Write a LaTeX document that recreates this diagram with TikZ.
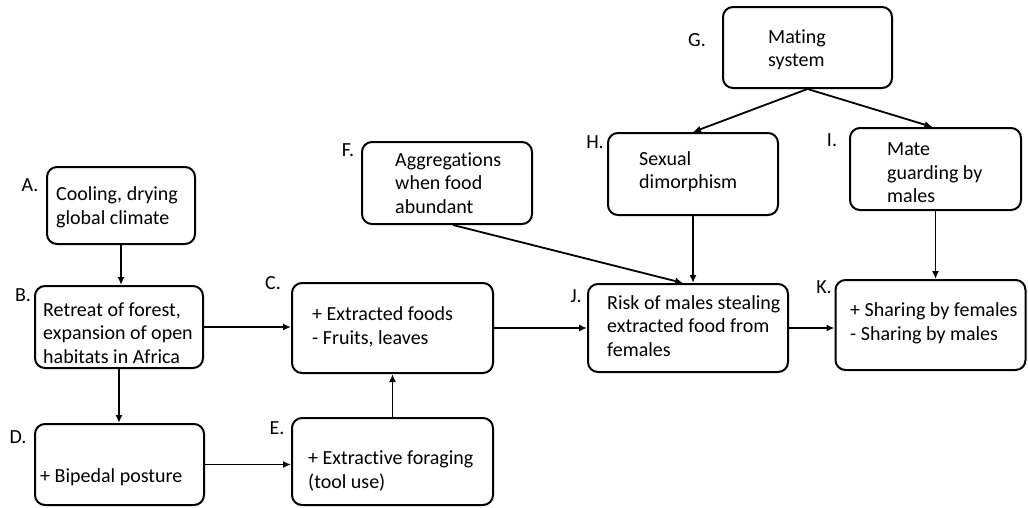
\documentclass[tikz,border=0pt]{standalone}
\usepackage{fontspec}
\setmainfont{Carlito}[Ligatures=NoCommon]
\usetikzlibrary{arrows.meta}

\tikzset{
  box/.style={draw, rectangle, rounded corners=10pt, line width=2pt},
  txt/.style={inner sep=0pt, align=left, anchor=west, font=\fontsize{20}{23.5}\selectfont},
  lbl/.style={inner sep=0pt, font=\fontsize{20}{23.5}\selectfont},
  link/.style={->, line width=1.8pt, >={Latex[length=8pt,width=7pt]}}
}

\begin{document}
\begin{tikzpicture}[x=1pt, y=-1pt]
  \useasboundingbox (0,0) rectangle (1028,507);
    % Boxes
  \node[box, minimum width=148pt, minimum height=77pt] (A) at (121,205.5) {};
  \node[box, minimum width=168pt, minimum height=82pt] (B) at (119,327) {};
  \node[box, minimum width=201pt, minimum height=90pt] (C) at (392.5,328) {};
  \node[box, minimum width=169pt, minimum height=81pt] (D) at (119.5,464.5) {};
  \node[box, minimum width=201pt, minimum height=87pt] (E) at (392.5,461.5) {};
  \node[box, minimum width=170pt, minimum height=82pt] (F) at (447,183) {};
  \node[box, minimum width=169pt, minimum height=81pt] (G) at (807.5,47.5) {};
  \node[box, minimum width=170pt, minimum height=82pt] (H) at (693,174) {};
  \node[box, minimum width=171pt, minimum height=82pt] (I) at (935.5,169) {};
  \node[box, minimum width=200pt, minimum height=88pt] (J) at (688,328) {};
  \node[box, minimum width=190pt, minimum height=90pt] (K) at (930.5,325) {};
    % Texts
  \node[txt] (At) at (56,207.5) {Cooling, drying\\global climate};
  \node[txt] (Bt) at (43,333) {Retreat of forest,\\expansion of open\\habitats in Africa};
  \node[txt] (Ct) at (312,327) {+ Extracted foods\\- Fruits, leaves};
  \node[txt] (Dt) at (40,477) {+ Bipedal posture};
  \node[txt] (Et) at (308,471) {+ Extractive foraging\\(tool use)};
  \node[txt] (Ft) at (395,183) {Aggregations\\when food\\abundant};
  \node[txt] (Gt) at (768,49.5) {Mating\\system};
  \node[txt] (Ht) at (639,171.5) {Sexual\\dimorphism};
  \node[txt] (It) at (887,173) {Mate\\guarding by\\males};
  \node[txt] (Jt) at (607,326) {Risk of males stealing\\extracted food from\\females};
  \node[txt] (Kt) at (850,323.5) {+ Sharing by females\\- Sharing by males};
    % Letters
  \node[lbl] (Al) at (30,185) {A.};
  \node[lbl] (Bl) at (23,295) {B.};
  \node[lbl] (Cl) at (273,283) {C.};
  \node[lbl] (Dl) at (18,437) {D.};
  \node[lbl] (El) at (277,428) {E.};
  \node[lbl] (Fl) at (348,150) {F.};
  \node[lbl] (Gl) at (697,40) {G.};
  \node[lbl] (Hl) at (595,142) {H.};
  \node[lbl] (Il) at (832,140) {I.};
  \node[lbl] (Jl) at (576,296) {J.};
  \node[lbl] (Kl) at (824,287) {K.};
    % Arrows
  \draw[link] (A.south) -- (A.south |- B.north);
  \draw[link] (B.east) -- (B.east -| C.west);
  \draw[link] (B.south) -- (B.south |- D.north);
  \draw[link] (D.east) -- (D.east -| E.west);
  \draw[link] (E.north) -- (E.north |- C.south);
  \draw[link] (C.east) -- (C.east -| J.west);
  \draw[link] ([xshift=6pt]F.south) -- ([xshift=-5pt]J.north);
  \draw[link] (H.south) -- (H.south |- J.north);
  \draw[link] (G.south) -- (H.north);
  \draw[link] (G.south) -- ([xshift=-3pt]I.north);
  \draw[link] (I.south) -- (I.south |- K.north);
  \draw[link] (J.east) -- (J.east -| K.west);
\end{tikzpicture}
\end{document}
